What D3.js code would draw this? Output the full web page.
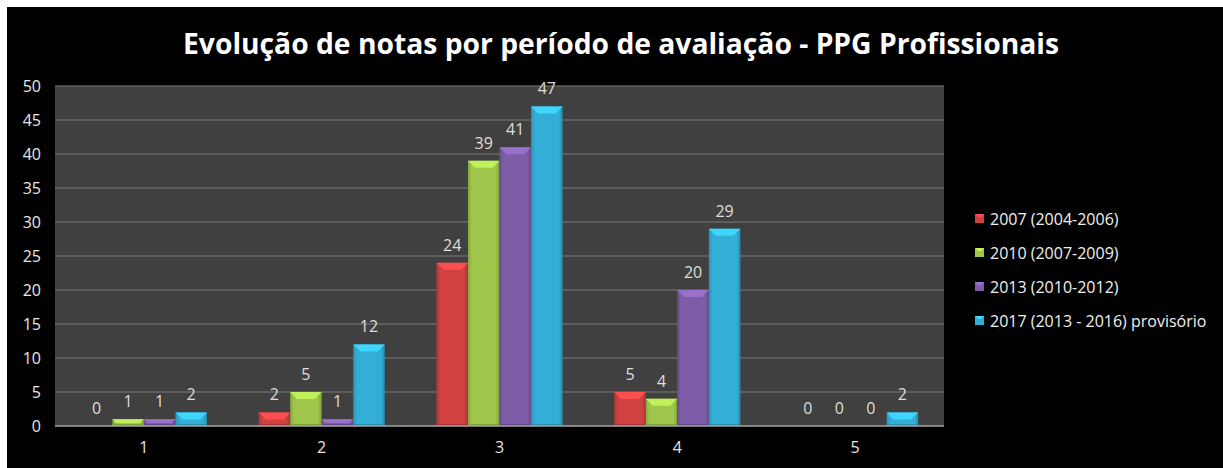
<!DOCTYPE html>
<html>
<head>
<meta charset="utf-8">
<script src="https://cdn.jsdelivr.net/npm/d3@7"></script>
<style>
  html, body { margin: 0; padding: 0; background: #ffffff; }
  svg { display: block; }
</style>
</head>
<body>
<script>
  // chart data
  let categories = ["1", "2", "3", "4", "5"];
  let seriesNames = ["2007 (2004-2006)", "2010 (2007-2009)", "2013 (2010-2012)", "2017 (2013 - 2016) provisório"];
  let seriesColors = ["#d04141", "#9fc64a", "#7e5ca8", "#33afd7"];
  let values2007 = [0, 2, 24, 5, 0];
  let values2010 = [1, 5, 39, 4, 0];
  let values2013 = [1, 1, 41, 20, 0];
  let values2017 = [2, 12, 47, 29, 2];
  let yTicks = [0, 5, 10, 15, 20, 25, 30, 35, 40, 45, 50];

  let allSeries = [values2007, values2010, values2013, values2017];
  let rows = [];
  categories.forEach((c, i) => {
    allSeries.forEach((s, j) => rows.push({ cat: c, series: j, value: s[i] }));
  });

  let font = "'Open Sans', 'DejaVu Sans', sans-serif";

  let svg = d3.select("body").append("svg")
    .attr("width", 1223)
    .attr("height", 468);

  // black chart background inside a white border
  svg.append("rect")
    .attr("x", 7).attr("y", 7)
    .attr("width", 1216).attr("height", 461)
    .attr("fill", "#000000");

  let plot = { left: 55, right: 944, top: 86, bottom: 426 };

  let xScale = d3.scaleBand()
    .domain(categories)
    .range([plot.left, plot.right]);

  // bars take roughly 4/5.6 of each category
  let inner = d3.scaleBand()
    .domain(d3.range(seriesNames.length))
    .range([0, xScale.bandwidth()])
    .paddingOuter(0.82)
    .paddingInner(0);

  let yScale = d3.scaleLinear()
    .domain([0, 50])
    .range([plot.bottom, plot.top]);

  // plot area
  svg.append("rect")
    .attr("x", plot.left).attr("y", plot.top)
    .attr("width", plot.right - plot.left)
    .attr("height", plot.bottom - plot.top)
    .attr("fill", "#404040");

  // gridlines
  svg.append("g")
    .selectAll("line")
    .data(yTicks.filter(t => t > 0))
    .enter()
    .append("line")
    .attr("x1", plot.left).attr("x2", plot.right)
    .attr("y1", d => yScale(d)).attr("y2", d => yScale(d))
    .attr("stroke", "#7a7a7a")
    .attr("stroke-width", 1);

  // y axis labels
  let yAxis = d3.axisLeft(yScale).tickValues(yTicks).tickSize(0).tickPadding(14);
  let yg = svg.append("g")
    .attr("transform", `translate(${plot.left}, 0)`)
    .call(yAxis);
  yg.select(".domain").remove();
  yg.selectAll("text")
    .attr("fill", "#e6e6e6")
    .style("font-family", font)
    .style("font-size", "16px");

  // gradients for bar faces
  let defs = svg.append("defs");
  seriesColors.forEach((c, i) => {
    let g = defs.append("linearGradient")
      .attr("id", "grad" + i)
      .attr("x1", "0").attr("x2", "1").attr("y1", "0").attr("y2", "0");
    g.append("stop").attr("offset", "0").attr("stop-color", d3.color(c).darker(0.5));
    g.append("stop").attr("offset", "0.12").attr("stop-color", c);
    g.append("stop").attr("offset", "0.88").attr("stop-color", c);
    g.append("stop").attr("offset", "1").attr("stop-color", d3.color(c).darker(0.6));
  });

  let bars = svg.append("g")
    .selectAll(".bar")
    .data(rows.filter(d => d.value > 0))
    .enter()
    .append("g")
    .attr("class", "bar");

  let bw = inner.bandwidth();
  let bx = d => xScale(d.cat) + inner(d.series);

  bars.append("rect")
    .attr("x", bx)
    .attr("y", d => yScale(d.value))
    .attr("width", bw)
    .attr("height", d => yScale(0) - yScale(d.value))
    .attr("fill", d => "url(#grad" + d.series + ")");

  // bevelled top face
  bars.append("polygon")
    .attr("points", d => {
      let x = bx(d), y = yScale(d.value);
      let h = yScale(0) - y;
      let b = Math.min(7, h * 0.55);
      return [[x, y], [x + bw, y], [x + bw - b, y + b], [x + b, y + b]].join(" ");
    })
    .attr("fill", d => d3.color(seriesColors[d.series]).brighter(0.55));

  // thin bottom shade
  bars.append("rect")
    .attr("x", bx)
    .attr("y", yScale(0) - 2)
    .attr("width", bw)
    .attr("height", 2)
    .attr("fill", d => d3.color(seriesColors[d.series]).darker(0.6));

  // axis line at zero
  svg.append("line")
    .attr("x1", plot.left).attr("x2", plot.right)
    .attr("y1", yScale(0)).attr("y2", yScale(0))
    .attr("stroke", "#a6a6a6")
    .attr("stroke-width", 1.5);

  // data labels
  svg.append("g")
    .selectAll("text")
    .data(rows)
    .enter()
    .append("text")
    .attr("x", d => bx(d) + bw / 2)
    .attr("y", d => yScale(d.value) - 12)
    .attr("text-anchor", "middle")
    .attr("fill", "#dedede")
    .style("font-family", font)
    .style("font-size", "16px")
    .text(d => d.value);

  // x axis labels
  let xAxis = d3.axisBottom(xScale).tickSize(0).tickPadding(16);
  let xg = svg.append("g")
    .attr("transform", `translate(0, ${plot.bottom})`)
    .call(xAxis);
  xg.select(".domain").remove();
  xg.selectAll("text")
    .attr("fill", "#e6e6e6")
    .style("font-family", font)
    .style("font-size", "16px");

  // title
  svg.append("text")
    .attr("x", 621)
    .attr("y", 54)
    .attr("text-anchor", "middle")
    .attr("fill", "#ffffff")
    .attr("textLength", 876)
    .attr("lengthAdjust", "spacingAndGlyphs")
    .style("font-family", font)
    .style("font-weight", "bold")
    .style("font-size", "28px")
    .text("Evolução de notas por período de avaliação - PPG Profissionais");

  // legend
  let legend = svg.append("g")
    .selectAll("g")
    .data(seriesNames)
    .enter()
    .append("g")
    .attr("transform", (d, i) => `translate(975, ${219 + i * 34})`);

  legend.append("rect")
    .attr("x", 0).attr("y", -5)
    .attr("width", 9).attr("height", 9)
    .attr("fill", (d, i) => seriesColors[i]);
  legend.append("polygon")
    .attr("points", "0,-5 9,-5 6,-2 3,-2")
    .attr("fill", (d, i) => d3.color(seriesColors[i]).brighter(0.6));

  legend.append("text")
    .attr("x", 15)
    .attr("y", 0)
    .attr("dy", "0.35em")
    .attr("fill", "#f0f0f0")
    .style("font-family", font)
    .style("font-size", "16px")
    .text(d => d);
</script>
</body>
</html>
